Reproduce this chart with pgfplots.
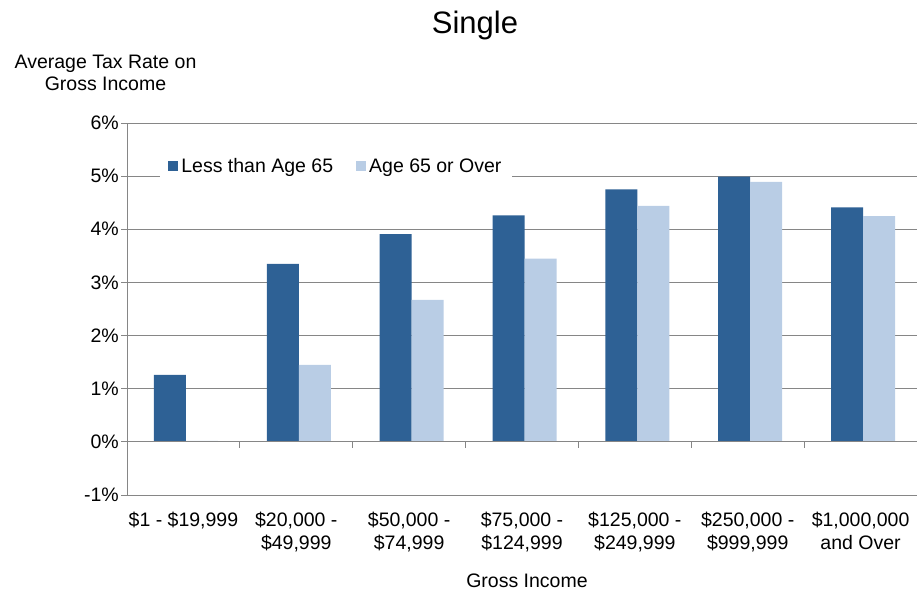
\documentclass[border=0pt]{standalone}
\usepackage{fontspec}
\setmainfont{Liberation Sans}
\usepackage{pgfplots}
\pgfplotsset{compat=1.18}
\definecolor{darkbar}{RGB}{46,97,149}
\definecolor{lightbar}{RGB}{185,205,229}
\definecolor{gridgray}{RGB}{134,134,134}
\begin{document}
\begin{tikzpicture}[x=1pt,y=1pt]
\useasboundingbox (0,0) rectangle (917,594);
\begin{axis}[
  at={(127pt,99pt)}, anchor=south west,
  scale only axis, width=790pt, height=372pt,
  xmin=-0.5, xmax=6.5, ymin=-1, ymax=6,
  enlargelimits=false,
  ybar=0pt, bar width=32pt,
  axis lines*=left,
  axis line style={gridgray, line width=0.8pt},
  ytick={-1,0,1,2,3,4,5,6},
  yticklabels={-1\%,0\%,1\%,2\%,3\%,4\%,5\%,6\%},
  ymajorgrids, grid style={gridgray, line width=0.8pt},
  tick style={gridgray, line width=0.8pt},
  ytick align=outside, major tick length=6pt,
  xtick={0,1,2,3,4,5,6},
  xticklabels={{\$1 - \$19,999},{\$20,000 -\\\$49,999},{\$50,000 -\\\$74,999},{\$75,000 -\\\$124,999},{\$125,000 -\\\$249,999},{\$250,000 -\\\$999,999},{\$1,000,000\\and Over}},
  x tick style={draw=none},
  xticklabel style={align=center, anchor=north, inner sep=0pt, yshift=-11pt, font=\fontsize{19.5}{23}\selectfont},
  yticklabel style={anchor=east, inner sep=0pt, xshift=-2pt, font=\fontsize{19.5}{23}\selectfont},
  legend columns=2,
  legend style={at={(0.042,0.884)}, anchor=west, draw=none, fill=white,
    font=\fontsize{19.5}{23}\selectfont, inner xsep=8pt, inner ysep=6pt,
    /tikz/every even column/.append style={column sep=20pt},
    nodes={inner xsep=3pt}},
  legend cell align=left,
]
\addplot[fill=darkbar, draw=none, bar shift=-13.5pt,
  legend image code/.code={\fill[darkbar] (0pt,-5pt) rectangle (10pt,5pt);}]
  coordinates {(0,1.26) (1,3.35) (2,3.91) (3,4.26) (4,4.75) (5,4.99) (6,4.41)};
\addlegendentry{Less than Age 65}
\addplot[fill=lightbar, draw=none, bar shift=18.5pt,
  legend image code/.code={\fill[lightbar] (0pt,-5pt) rectangle (10pt,5pt);}]
  coordinates {(0,0.02) (1,1.45) (2,2.67) (3,3.45) (4,4.44) (5,4.89) (6,4.25)};
\addlegendentry{Age 65 or Over}
\draw[gridgray, line width=0.8pt] (axis cs:-0.5,0) -- (axis cs:6.5,0);
\pgfplotsinvokeforeach{0.5,1.5,2.5,3.5,4.5,5.5}{
  \draw[gridgray, line width=0.8pt] (axis cs:#1,0) -- ++(0pt,-6pt);
}
\end{axis}
\node[anchor=base, font=\fontsize{31}{36}\selectfont] at (475,560) {Single};
\node[anchor=base, font=\fontsize{19.5}{23}\selectfont] at (105.5,525) {Average Tax Rate on};
\node[anchor=base, font=\fontsize{19.5}{23}\selectfont] at (105.5,503) {Gross Income};
\node[anchor=base, font=\fontsize{19.5}{23}\selectfont] at (527,7) {Gross Income};
\end{tikzpicture}
\end{document}
